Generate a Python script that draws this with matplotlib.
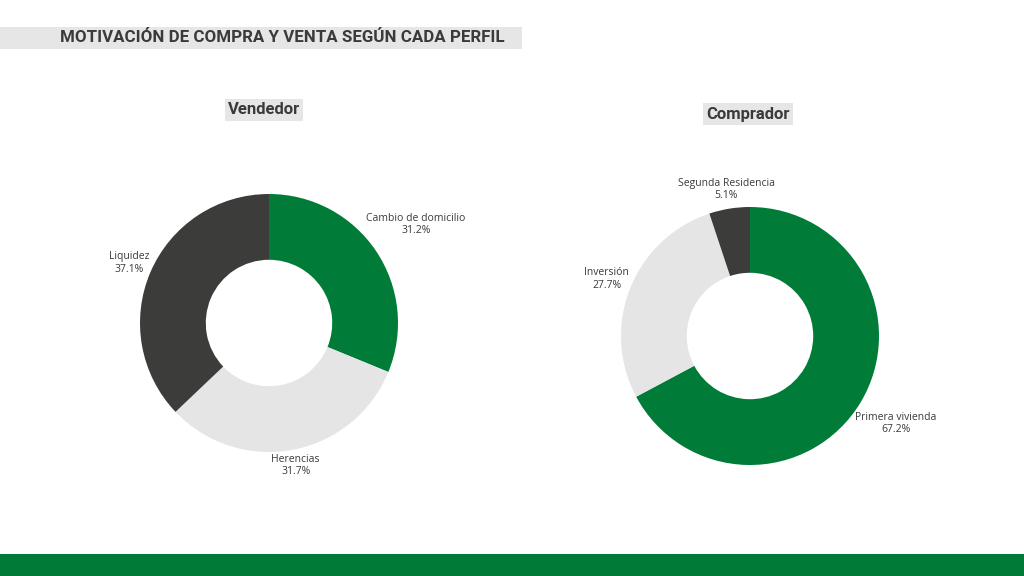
import numpy as np
import matplotlib
matplotlib.use("Agg")
import matplotlib.pyplot as plt
from matplotlib.patches import Rectangle

# ---------------- data ----------------
title = "MOTIVACIÓN DE COMPRA Y VENTA SEGÚN CADA PERFIL"
vend_title = "Vendedor"
vend_labels = ["Cambio de domicilio", "Herencias", "Liquidez"]
vend_values = [31.2, 31.7, 37.1]
comp_title = "Comprador"
comp_labels = ["Primera vivienda", "Inversión", "Segunda Residencia"]
comp_values = [67.2, 27.7, 5.1]

GREEN = "#007c38"
DARK = "#3c3c3b"
LIGHT = "#e5e5e5"
TXT = "#3a3a3a"
slice_colors = [GREEN, LIGHT, DARK]

W, H = 1024, 576
fig = plt.figure(figsize=(W / 100, H / 100), dpi=100)
fig.patch.set_facecolor("white")

def px_rect(x0, y0, x1, y1, color):
    fig.patches.append(Rectangle((x0 / W, 1 - y1 / H), (x1 - x0) / W, (y1 - y0) / H,
                                 transform=fig.transFigure, color=color, zorder=0, lw=0))

# title band and bottom bar
px_rect(0, 27, 522, 49, "#e6e6e6")
px_rect(0, 554, 1024, 576, "#007a37")
fig.text(282 / W, 1 - 38 / H, title, ha="center", va="center", fontsize=12.2,
         fontweight="bold", family="Roboto", color=TXT)

R_PX = 129
L = 1.6
S = 2 * L * R_PX

def donut(cx, cy, values, labels, sub_title, sub_xy):
    ax = fig.add_axes([(cx - S / 2) / W, 1 - (cy + S / 2) / H, S / W, S / H])
    wedges, _ = ax.pie(values, colors=slice_colors, startangle=90, counterclock=False,
                       radius=1.0, wedgeprops=dict(width=0.51, linewidth=0))
    ax.set_xlim(-L, L)
    ax.set_ylim(-L, L)
    ax.set_aspect("equal")
    ax.axis("off")
    fig.text(sub_xy[0] / W, 1 - sub_xy[1] / H, sub_title, ha="center", va="center",
             fontsize=12, fontweight="bold", family="Roboto", color=TXT,
             bbox=dict(boxstyle="square,pad=0.2", fc="#e6e6e6", ec="none"))
    texts = []
    for w, lab, v in zip(wedges, labels, values):
        ang = np.deg2rad((w.theta1 + w.theta2) / 2)
        t = ax.text(np.cos(ang), np.sin(ang), f"{lab}\n{v:.1f}%", ha="center", va="center",
                    fontsize=7.5, family="Open Sans", color=TXT, linespacing=1.2)
        texts.append((t, ang))
    return ax, texts

ax1, t1 = donut(269, 323, vend_values, vend_labels, vend_title, (264, 110))
ax2, t2 = donut(750, 336, comp_values, comp_labels, comp_title, (748, 114))

fig.canvas.draw()
r = fig.canvas.get_renderer()
for ax, tl in ((ax1, t1), (ax2, t2)):
    for t, ang in tl:
        bb = t.get_window_extent(renderer=r)
        half = (bb.width / 2) * abs(np.cos(ang)) + (bb.height / 2) * abs(np.sin(ang))
        dist = 1.0 + half / R_PX
        t.set_position((dist * np.cos(ang), dist * np.sin(ang)))

fig.savefig("out.png", dpi=100)
